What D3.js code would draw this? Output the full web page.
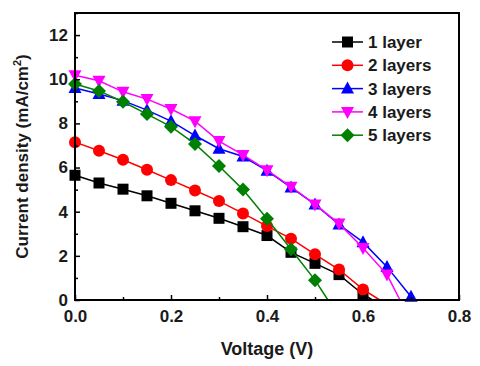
<!DOCTYPE html>
<html>
<head>
<meta charset="utf-8">
<script src="https://cdn.jsdelivr.net/npm/d3@7"></script>
<style>
  body { margin: 0; background: #fff; }
  text { font-family: "Liberation Sans", Arial, sans-serif; font-weight: bold; }
</style>
</head>
<body>
<div id="chart"></div>
<script>
// voltage steps (V)
const voltage = [0, 0.05, 0.1, 0.15, 0.2, 0.25, 0.3, 0.35, 0.4, 0.45, 0.5, 0.55, 0.6, 0.65, 0.7];
const seriesNames = ["1 layer", "2 layers", "3 layers", "4 layers", "5 layers"];
const layer1 = [5.65, 5.3, 5.02, 4.72, 4.38, 4.04, 3.7, 3.32, 2.92, 2.16, 1.66, 1.15, 0.25];
const layer2 = [7.15, 6.76, 6.35, 5.9, 5.43, 4.96, 4.48, 3.92, 3.35, 2.78, 2.07, 1.38, 0.48];
const layer3 = [9.6, 9.33, 9.03, 8.6, 8.1, 7.45, 6.85, 6.5, 5.86, 5.1, 4.33, 3.42, 2.62, 1.5, 0.15];
const layer4 = [10.18, 9.93, 9.43, 9.1, 8.65, 8.1, 7.2, 6.57, 5.88, 5.13, 4.33, 3.46, 2.36, 1.15];
const layer5 = [9.78, 9.47, 8.98, 8.42, 7.85, 7.07, 6.07, 5.0, 3.68, 2.3, 0.9];
// open-circuit voltages where curves reach 0 (no marker)
const voc = [0.62, 0.635, 0.705, 0.677, 0.527];
const colors = ["#000000", "#ff0000", "#0000ff", "#ff00ff", "#008000"];
const symbols = ["square", "circle", "up", "down", "diamond"];
const xTicks = [0.0, 0.2, 0.4, 0.6, 0.8];
const yTicks = [0, 2, 4, 6, 8, 10, 12];

const width = 480, height = 366;
const margin = {left: 75, right: 21, top: 13, bottom: 66};

let svg = d3.select("#chart")
    .append("svg")
    .attr("width", width)
    .attr("height", height);

let x = d3.scaleLinear()
    .domain([0, 0.8])
    .range([margin.left, width - margin.right]);

let y = d3.scaleLinear()
    .domain([0, 13])
    .range([height - margin.bottom, margin.top]);

const allSeries = [layer1, layer2, layer3, layer4, layer5].map(function(vals, i) {
    let pts = vals.map(function(v, j) { return [voltage[j], v]; });
    return {name: seriesNames[i], color: colors[i], sym: symbols[i], pts: pts, voc: voc[i]};
});

function drawMarker(g, sym, cx, cy, color) {
    if (sym === "square") {
        g.append("rect").attr("x", cx - 5.5).attr("y", cy - 5.5)
            .attr("width", 11).attr("height", 11).attr("fill", color);
    } else if (sym === "circle") {
        g.append("circle").attr("cx", cx).attr("cy", cy).attr("r", 6).attr("fill", color);
    } else if (sym === "up") {
        g.append("path").attr("d", `M${cx},${cy - 7}L${cx + 6.5},${cy + 5}L${cx - 6.5},${cy + 5}Z`).attr("fill", color);
    } else if (sym === "down") {
        g.append("path").attr("d", `M${cx},${cy + 7}L${cx + 6.5},${cy - 5}L${cx - 6.5},${cy - 5}Z`).attr("fill", color);
    } else {
        g.append("path").attr("d", `M${cx},${cy - 7}L${cx + 7},${cy}L${cx},${cy + 7}L${cx - 7},${cy}Z`).attr("fill", color);
    }
}

let line = d3.line()
    .x(function(d) { return x(d[0]); })
    .y(function(d) { return y(d[1]); });

let plot = svg.append("g");
allSeries.forEach(function(s) {
    let linePts = s.pts.concat([[s.voc, 0]]);
    plot.append("path")
        .attr("d", line(linePts))
        .attr("fill", "none")
        .attr("stroke", s.color)
        .attr("stroke-width", 1.5);
    s.pts.forEach(function(p) {
        drawMarker(plot, s.sym, x(p[0]), y(p[1]), s.color);
    });
});

// frame
svg.append("rect")
    .attr("x", margin.left)
    .attr("y", margin.top)
    .attr("width", width - margin.left - margin.right)
    .attr("height", height - margin.top - margin.bottom)
    .attr("fill", "none")
    .attr("stroke", "#000")
    .attr("stroke-width", 2);

// axes with inward ticks
let xAxis = svg.append("g")
    .attr("transform", `translate(0, ${height - margin.bottom})`)
    .call(d3.axisBottom(x).tickValues(xTicks).tickFormat(d3.format(".1f")).tickSize(-5).tickPadding(10));
let xMinor = svg.append("g")
    .attr("transform", `translate(0, ${height - margin.bottom})`)
    .call(d3.axisBottom(x).tickValues([0.1, 0.3, 0.5, 0.7]).tickFormat("").tickSize(-3));

let yAxis = svg.append("g")
    .attr("transform", `translate(${margin.left}, 0)`)
    .call(d3.axisLeft(y).tickValues(yTicks).tickSize(-5).tickPadding(7));
let yMinor = svg.append("g")
    .attr("transform", `translate(${margin.left}, 0)`)
    .call(d3.axisLeft(y).tickValues([1, 3, 5, 7, 9, 11, 13]).tickFormat("").tickSize(-3));

[xAxis, xMinor, yAxis, yMinor].forEach(function(a) {
    a.select(".domain").remove();
    a.selectAll("line").attr("stroke", "#000").attr("stroke-width", 1.5);
    a.selectAll("text")
        .style("font-size", "17px")
        .style("font-family", "Liberation Sans, Arial, sans-serif")
        .style("font-weight", "bold")
        .attr("fill", "#1a1a1a");
});

// axis titles
svg.append("text")
    .attr("x", 267)
    .attr("y", 355)
    .style("text-anchor", "middle")
    .style("font-size", "18px")
    .attr("fill", "#1a1a1a")
    .text("Voltage (V)");

let yt = svg.append("text")
    .attr("transform", `translate(28, ${(margin.top + height - margin.bottom) / 2})rotate(-90)`)
    .style("text-anchor", "middle")
    .style("font-size", "17px")
    .attr("fill", "#1a1a1a");
yt.append("tspan").text("Current density (mA/cm");
yt.append("tspan").attr("dy", -7).style("font-size", "11px").text("2");
yt.append("tspan").attr("dy", 7).text(")");

// legend
let legend = svg.append("g");
allSeries.forEach(function(s, i) {
    let ly = 42 + i * 23.3;
    legend.append("line")
        .attr("x1", 332).attr("x2", 363)
        .attr("y1", ly).attr("y2", ly)
        .attr("stroke", s.color).attr("stroke-width", 1.5);
    drawMarker(legend, s.sym, 347.5, ly, s.color);
    legend.append("text")
        .attr("x", 368)
        .attr("y", ly + 6)
        .style("font-size", "17px")
        .attr("fill", "#1a1a1a")
        .text(s.name);
});
</script>
</body>
</html>
